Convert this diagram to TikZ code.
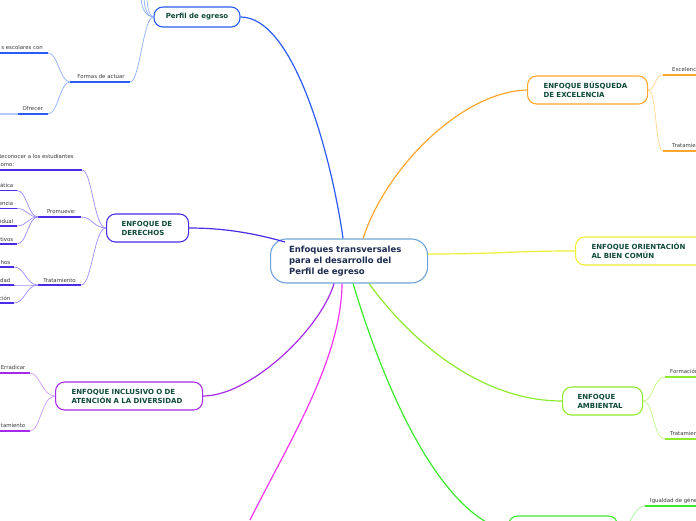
\documentclass[tikz,border=0pt]{standalone}
\usepackage{fontspec}
\setmainfont{DejaVu Sans}
\usetikzlibrary{calc}
\definecolor{cBlue}{HTML}{2B5BF5}
\definecolor{cBlueL}{HTML}{8FAEFF}
\definecolor{cBlueM}{HTML}{B5C9FF}
\definecolor{cInd}{HTML}{4A2BE8}
\definecolor{cIndL}{HTML}{9C8CFF}
\definecolor{cPur}{HTML}{A52BE8}
\definecolor{cPurL}{HTML}{CF9BFA}
\definecolor{cMag}{HTML}{F533F0}
\definecolor{cGrn}{HTML}{3BEA2B}
\definecolor{cGrnL}{HTML}{A3F59A}
\definecolor{cLGrn}{HTML}{8FEA2B}
\definecolor{cLGrnL}{HTML}{C2F58A}
\definecolor{cYel}{HTML}{EEEE30}
\definecolor{cOrg}{HTML}{FFA72B}
\definecolor{cOrgL}{HTML}{FFD590}
\definecolor{cCen}{HTML}{6FA3D8}
\definecolor{txtB}{HTML}{0E4A3A}
\definecolor{txtC}{HTML}{1C2B50}
\definecolor{txtS}{HTML}{3A3A3A}
\tikzset{
  box/.style={draw, line width=1.1pt, fill=white, rounded corners=9pt,
    minimum height=28pt, inner xsep=16pt, inner ysep=0pt, align=left,
    font=\fontsize{7}{9}\selectfont\bfseries, text=txtB, anchor=west},
  lbl/.style={font=\fontsize{5.4}{6.5}\selectfont, text=txtS, inner sep=0pt},
  ul/.style={line width=1.6pt},
  br/.style={line width=0.7pt},
  conn/.style={line width=1.2pt},
}
\begin{document}
\begin{tikzpicture}[x=1pt,y=-1pt]
\useasboundingbox (0,0) rectangle (696,520);
\clip (0,0) rectangle (696,520);

% ---------- nodes ----------
\node[draw=cCen, line width=1.1pt, fill=white, rounded corners=16pt, minimum height=44pt,
  inner xsep=18.5pt, inner ysep=0pt, text width=120pt, align=left, anchor=west,
  font=\fontsize{8.5}{11}\selectfont\bfseries, text=txtC] (c) at (270,261)
  {Enfoques transversales\\para el desarrollo del\\Perfil de egreso};

\node[box, draw=cBlue, anchor=center, minimum width=86pt, minimum height=20pt, inner xsep=4pt] (P) at (197,17) {Perfil de egreso};
\node[box, draw=cInd, text width=52pt, inner xsep=15pt] (D) at (106,228) {ENFOQUE DE\\DERECHOS};
\node[box, draw=cPur, text width=115pt] (I) at (55,396) {ENFOQUE INCLUSIVO O DE\\ATENCIÓN A LA DIVERSIDAD};
\node[box, draw=cOrg, text width=88pt] (B) at (527,90) {ENFOQUE BÚSQUEDA\\DE EXCELENCIA};
\node[box, draw=cYel, text width=110pt] (O) at (575,251) {ENFOQUE ORIENTACIÓN\\AL BIEN COMÚN};
\node[box, draw=cLGrn, text width=50pt, inner xsep=15pt] (A) at (562,401) {ENFOQUE\\AMBIENTAL};
\node[box, draw=cGrn, minimum width=109pt, minimum height=30pt, inner xsep=0pt] (G) at (508,531) {};

% ---------- main connectors ----------
\coordinate (cb) at ($(c.north)+(-6,0)$);
\coordinate (co) at ($(c.north)+(14,0)$);
\coordinate (cy) at ($(c.east)+(0,-7)$);
\coordinate (cl) at ($(c.south)+(20,0)$);
\coordinate (cg) at ($(c.south)+(4,0)$);
\coordinate (cm) at ($(c.south)+(-7,0)$);
\coordinate (cp) at ($(c.south)+(-15,0)$);
\coordinate (ci) at ($(c.west)+(15,-19)$);
\coordinate (mE) at (250,520);

\draw[conn, cBlue] (cb) .. controls (332,160) and (295,17) .. (P.east);
\draw[conn, cOrg] (co) .. controls (385,170) and (460,92) .. (B.west);
\draw[conn, cYel] (cy) .. controls (500,254) and (510,251) .. (O.west);
\draw[conn, cLGrn] (cl) .. controls (410,340) and (480,401) .. (A.west);
\draw[conn, cGrn] (cg) .. controls (385,390) and (440,515) .. (G.west);
\draw[conn, cMag] (cm) .. controls (341,360) and (290,440) .. (mE);
\draw[conn, cPur] (cp) .. controls (320,330) and (250,396) .. (I.east);
\draw[conn, cInd] (ci) .. controls (250,232) and (220,228) .. (D.east);

% ---------- Perfil de egreso branch ----------
\coordinate (t1) at (141,-4);
\coordinate (t2) at (144,-4);
\coordinate (t3) at (147,-4);
\draw[br, cBlueL] (P.west) .. controls (147,17) and (141,10) .. (t1);
\draw[br, cBlueL] (P.west) .. controls (148,17) and (144,10) .. (t2);
\draw[br, cBlueL] (P.west) .. controls (150,16) and (147,10) .. (t3);

\coordinate (faL) at (70,82);
\coordinate (faR) at (130,82);
\draw[ul, cBlue] (faL) -- (faR);
\node[lbl, anchor=base] (fa) at (101,78.5) {Formas de actuar};
\draw[br, cBlueL] (P.west) .. controls (143,17) and (140,82) .. (faR);

\coordinate (esL) at (0,53);
\coordinate (esR) at (48,53);
\draw[ul, cBlue] (esL) -- (esR);
\node[lbl, anchor=base east] (es) at (43,49.5) {s escolares con};

\coordinate (ofL) at (0,114);
\coordinate (ofM) at (18,114);
\coordinate (ofR) at (48,114);
\draw[ul, cBlueM] (ofL) -- (ofM);
\draw[ul, cBlue] (ofM) -- (ofR);
\node[lbl, anchor=base east] (of) at (43,110.5) {Ofrecer};

\draw[br, cBlueL] (faL) .. controls (60,82) and (58,53) .. (esR);
\draw[br, cBlueL] (faL) .. controls (60,82) and (58,114) .. (ofR);

% ---------- Derechos branch ----------
\coordinate (reL) at (0,170);
\coordinate (reR) at (82,170);
\draw[ul, cInd] (reL) -- (reR);
\node[lbl, anchor=base west] (re1) at (-2.5,158.5) {Reconocer a los estudiantes};
\node[lbl, anchor=base west] (re2) at (-2.5,166) {como:};

\coordinate (prL) at (38,217);
\coordinate (prR) at (81,217);
\draw[ul, cInd] (prL) -- (prR);
\node[lbl, anchor=base] (pr) at (61.5,213.5) {Promueve:};

\coordinate (trL) at (38,285);
\coordinate (trR) at (81,285);
\draw[ul, cInd] (trL) -- (trR);
\node[lbl, anchor=base] (tr) at (59.5,282) {Tratamiento};

\draw[br, cIndL] (D.west) .. controls (94,228) and (92,170) .. (reR);
\draw[br, cIndL] (D.west) .. controls (94,228) and (92,217) .. (prR);
\draw[br, cIndL] (D.west) .. controls (94,228) and (92,285) .. (trR);

\foreach \y/\t/\n in {190.5/ática/p1, 208.5/encia/p2, 226/idual/p3, 244/tivos/p4}{
  \coordinate (\n L) at (0,\y);
  \coordinate (\n R) at (17,\y);
  \draw[ul, cInd] (\n L) -- (\n R);
  \node[lbl, anchor=base east] (\n) at (13.5,\y-2.8) {\t};
  \draw[br, cIndL] (prL) .. controls (28,217) and (27,\y) .. (\n R);
}
\foreach \y/\t/\n in {267/hos/q1, 285/dad/q2, 303/ción/q3}{
  \coordinate (\n L) at (0,\y);
  \coordinate (\n R) at (14,\y);
  \draw[ul, cInd] (\n L) -- (\n R);
  \node[lbl, anchor=base east] (\n) at (10.5,\y-2.8) {\t};
  \draw[br, cIndL] (trL) .. controls (26,285) and (25,\y) .. (\n R);
}

% ---------- Inclusivo branch ----------
\coordinate (erL) at (0,373);
\coordinate (erR) at (30,373);
\draw[ul, cPur] (erL) -- (erR);
\node[lbl, anchor=base east] (er) at (25.5,369.8) {Erradicar};
\coordinate (itL) at (0,431);
\coordinate (itR) at (30,431);
\draw[ul, cPur] (itL) -- (itR);
\node[lbl, anchor=base east] (it) at (25.5,427.8) {tamiento};
\draw[br, cPurL] (I.west) .. controls (42,396) and (40,373) .. (erR);
\draw[br, cPurL] (I.west) .. controls (42,396) and (40,431) .. (itR);

% ---------- Busqueda branch ----------
\coordinate (exL) at (663,75);
\coordinate (exR) at (700,75);
\draw[ul, cOrg] (exL) -- (exR);
\node[lbl, anchor=base west] (ex) at (672,71.8) {Excelencia};
\coordinate (btL) at (663,151);
\coordinate (btR) at (700,151);
\draw[ul, cOrg] (btL) -- (btR);
\node[lbl, anchor=base west] (bt) at (672,147.8) {Tratamiento};
\draw[br, cOrgL] (B.east) .. controls (656,90) and (654,75) .. (exL);
\draw[br, cOrgL] (B.east) .. controls (657,90) and (655,151) .. (btL);

% ---------- Ambiental branch ----------
\coordinate (foL) at (665,377);
\coordinate (foR) at (700,377);
\draw[ul, cLGrn] (foL) -- (foR);
\node[lbl, anchor=base west] (fo) at (670,373.8) {Formación};
\coordinate (atL) at (665,439);
\coordinate (atR) at (700,439);
\draw[ul, cLGrn] (atL) -- (atR);
\node[lbl, anchor=base west] (at) at (670,435.8) {Tratamiento};
\draw[br, cLGrnL] (A.east) .. controls (654,401) and (653,377) .. (foL);
\draw[br, cLGrnL] (A.east) .. controls (654,401) and (653,439) .. (atL);

% ---------- bottom green branch ----------
\coordinate (igL) at (645,506);
\coordinate (igR) at (700,506);
\draw[ul, cGrn] (igL) -- (igR);
\node[lbl, anchor=base west] (ig) at (650,502.8) {Igualdad de género};
\draw[br, cGrnL] (G.east) .. controls (630,531) and (633,506) .. (igL);
\end{tikzpicture}
\end{document}
